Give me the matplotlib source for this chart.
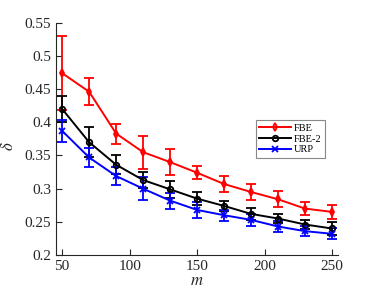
import numpy as np
import matplotlib
matplotlib.use("Agg")
import matplotlib.pyplot as plt
from matplotlib.ticker import FormatStrFormatter

plt.rcParams['font.family'] = ['Liberation Serif', 'DejaVu Serif']
plt.rcParams['mathtext.fontset'] = 'stix'

m = [50, 70, 90, 110, 130, 150, 170, 190, 210, 230, 250]

fbe = [0.474, 0.446, 0.383, 0.355, 0.340, 0.324, 0.307, 0.295, 0.284, 0.270, 0.265]
fbe_err = [0.056, 0.020, 0.015, 0.025, 0.020, 0.010, 0.012, 0.012, 0.012, 0.010, 0.011]

fbe2 = [0.420, 0.370, 0.336, 0.313, 0.299, 0.285, 0.274, 0.262, 0.255, 0.246, 0.240]
fbe2_err = [0.019, 0.023, 0.014, 0.012, 0.013, 0.010, 0.007, 0.009, 0.007, 0.007, 0.010]

urp = [0.387, 0.347, 0.319, 0.300, 0.282, 0.268, 0.260, 0.253, 0.243, 0.236, 0.232]
urp_err = [0.017, 0.015, 0.014, 0.017, 0.012, 0.012, 0.008, 0.009, 0.008, 0.008, 0.008]

fig = plt.figure(figsize=(3.74, 2.99), dpi=100)
ax = fig.add_axes([0.150, 0.147, 0.754, 0.777])

style = dict(markersize=4, markeredgewidth=1.3, lw=1.4, capsize=3.5,
             elinewidth=1.3, capthick=1.3)
e1 = ax.errorbar(m, fbe, yerr=fbe_err, color='red', marker='d',
                 markerfacecolor='none', **style)
e2 = ax.errorbar(m, fbe2, yerr=fbe2_err, color='black', marker='o',
                 markerfacecolor='none', **style)
e3 = ax.errorbar(m, urp, yerr=urp_err, color='blue', marker='x', **style)

ax.set_xlim(45.5, 254.5)
ax.set_ylim(0.2, 0.55)
ax.set_xticks([50, 100, 150, 200, 250])
ax.set_yticks([0.2, 0.25, 0.3, 0.35, 0.4, 0.45, 0.5, 0.55])
ax.yaxis.set_major_formatter(FormatStrFormatter('%g'))
ax.spines['top'].set_visible(False)
ax.spines['right'].set_visible(False)
for s in ['left', 'bottom']:
    ax.spines[s].set_color('#262626')
    ax.spines[s].set_linewidth(0.8)
ax.tick_params(direction='in', length=4, colors='#262626', labelsize=11, width=0.8)

ax.set_xlabel(r'$m$', fontsize=12, color='#262626', labelpad=0)
ax.set_ylabel(r'$\delta$', fontsize=12, color='#262626')
ax.yaxis.set_label_coords(-0.14, 0.47)

leg = ax.legend([e1.lines[0], e2.lines[0], e3.lines[0]], ['FBE', 'FBE-2', 'URP'],
                loc='center right', bbox_to_anchor=(0.972, 0.50), fontsize=7.5,
                fancybox=False, edgecolor='#888888', framealpha=1,
                handlelength=3.0, handletextpad=0.3, borderpad=0.35, labelspacing=0.15)
leg.get_frame().set_linewidth(0.8)

fig.savefig('out.png', dpi=100)
